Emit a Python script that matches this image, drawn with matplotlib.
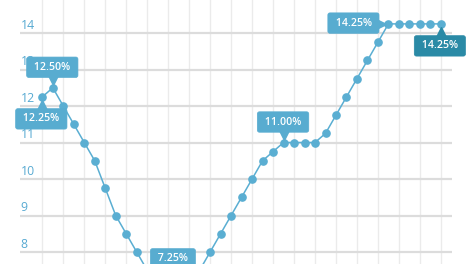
import matplotlib
matplotlib.use("Agg")
import matplotlib.pyplot as plt
import matplotlib.transforms as mtransforms

# Data (Selic-like policy rate, %), one value per meeting
rates = [12.25, 12.50, 12.00, 11.50, 11.00, 10.50, 9.75, 9.00, 8.50, 8.00,
         7.50, 7.25, 7.25, 7.25, 7.25, 7.50, 8.00, 8.50, 9.00, 9.50,
         10.00, 10.50, 10.75, 11.00, 11.00, 11.00, 11.00, 11.25, 11.75, 12.25,
         12.75, 13.25, 13.75, 14.25, 14.25, 14.25, 14.25, 14.25, 14.25]
xs = list(range(len(rates)))
ytick_values = [8, 9, 10, 11, 12, 13, 14]
ytick_labels = ["8", "9", "10", "11", "12", "13", "14"]

# Callouts: (x index, value, text, placement, dark)
callouts = [
    (1, 12.50, "12.50%", "above", False),
    (0, 12.25, "12.25%", "below", False),
    (12.5, 7.25, "7.25%", "above", False),
    (23, 11.00, "11.00%", "above", False),
    (33, 14.25, "14.25%", "left", False),
    (38, 14.25, "14.25%", "below", True),
]

LINE = "#5aaed2"
BOX = "#58acd0"
DARK = "#2a8aa6"
TICK = "#58aad2"

W, H = 470, 264
fig = plt.figure(figsize=(W / 100, H / 100), dpi=100)
fig.patch.set_facecolor("white")
ax = fig.add_axes([20 / W, -0.0928, 432 / W, 1.106])
ax.set_xlim(-2.126, 39.06)
ax.set_ylim(7.0, 15.0)
for s in ax.spines.values():
    s.set_visible(False)

ax.set_xticks(range(0, 39, 2))
ax.set_yticks(ytick_values)
ax.tick_params(length=0, labelbottom=False, labelleft=False)
ax.grid(axis="x", color="#ebebeb", linewidth=1.0)
ax.grid(axis="y", color="#dcdcdc", linewidth=1.6)
ax.set_axisbelow(True)

trans_lbl = mtransforms.blended_transform_factory(ax.transAxes, ax.transData)
for v, t in zip(ytick_values, ytick_labels):
    ax.text(0.0, v, t, transform=mtransforms.offset_copy(trans_lbl, fig=fig, x=0.4, y=3.0, units="points"),
            ha="left", va="baseline", fontsize=8.8, color=TICK, family="Open Sans", zorder=1)

ax.plot(xs, rates, color=LINE, linewidth=1.1, marker="o", markersize=5.2,
        markerfacecolor=LINE, markeredgecolor=LINE, zorder=3)

px = 0.72  # points per pixel
for xi, v, txt, place, dark in callouts:
    col = DARK if dark else BOX
    if place == "above":
        off = (-0.5 * px, 20.5 * px); tri = "v"; toff = (0, 8.0 * px)
    elif place == "below":
        off = (-1 * px, -22 * px); tri = "^"; toff = (0, -8.0 * px)
    else:
        off = (-35 * px, 0.8 * px); tri = ">"; toff = (-7 * px, 0)
    ax.annotate(" " + txt + " ", (xi, v), xytext=off, textcoords="offset points",
                ha="center", va="center", fontsize=7.7, color="white", weight="semibold",
                family="Open Sans", zorder=6,
                bbox=dict(boxstyle="round,pad=0.44,rounding_size=0.2", fc=col, ec=col, lw=0.5))
    tt = mtransforms.offset_copy(ax.transData, fig=fig, x=toff[0], y=toff[1], units="points")
    ax.plot([xi], [v], marker=tri, markersize=6.5, color=col, markeredgecolor=col,
            transform=tt, zorder=5, clip_on=False)

fig.savefig("out.png", dpi=100)
